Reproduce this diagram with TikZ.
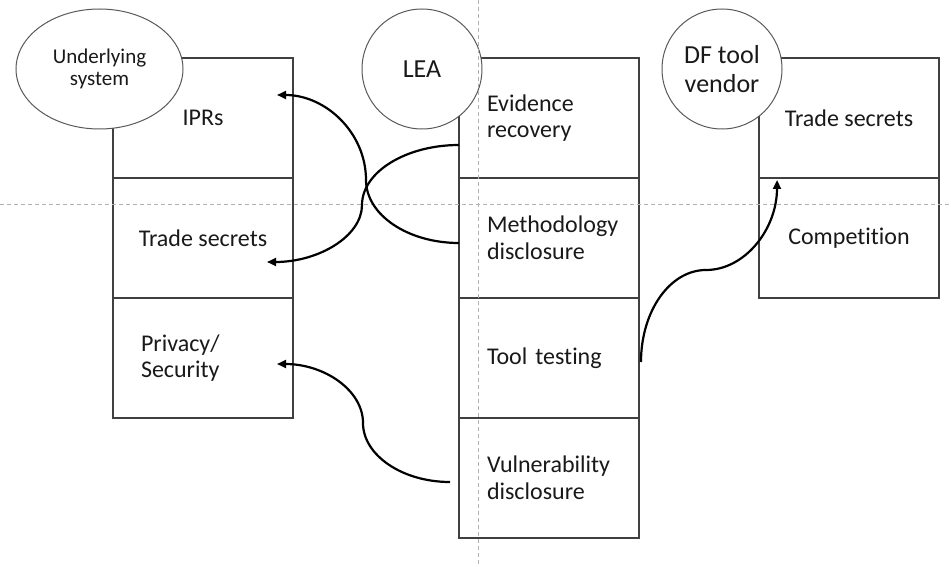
\documentclass[tikz,border=0pt]{standalone}
\usepackage{fontspec}
\setmainfont{Carlito}[Ligatures=NoCommon]
\usetikzlibrary{arrows.meta,shapes.geometric}
\begin{document}
\begin{tikzpicture}[x=1pt,y=-1pt,
  cell/.style={draw=black!75,line width=1.2pt,minimum width=180pt,minimum height=120pt,inner sep=0pt,outer sep=0pt,text=black!90,font=\fontsize{24}{26.7}\selectfont},
  cellL/.style={cell,text width=124pt,align=left},
  cellC/.style={cell,align=center},
  actor/.style={draw=black!65,line width=1pt,fill=white,circle,minimum size=120pt,inner sep=0pt,align=center,text=black!90,font=\fontsize{26}{29}\selectfont},
  arr/.style={line width=2.2pt,-{Triangle[length=9pt,width=8pt]}},
  guide/.style={draw=black!30,line width=0.8pt,dash pattern=on 4pt off 3pt}]
\useasboundingbox (0,0) rectangle (951,567);
% left column
\node[cellC] (ipr) at (203,118) {IPRs};
\node[cellC] (tsL) at (203,238) {Trade secrets};
\node[cellL] (priv) at (203,358) {Privacy/\\Security};
% middle column
\node[cellL] (ev) at (549,118) {Evidence\\recovery};
\node[cellL] (meth) at (549,238) {Methodology\\disclosure};
\node[cellL] (tt) at (549,358) {Tool testing};
\node[cellL] (vul) at (549,478) {Vulnerability\\disclosure};
% right column
\node[cellC] (tsR) at (849,118) {Trade secrets};
\node[cellC] (comp) at (849,238) {Competition};
% actors
\node[actor,ellipse,minimum width=167pt,minimum height=120pt,font=\fontsize{21}{22.5}\selectfont] (us) at (99.5,69) {Underlying\\system};
\node[actor] (lea) at (422,69) {LEA};
\node[actor] (df) at (722,69) {DF tool\\vendor};
% guides
\coordinate (gT) at (478,0);
\coordinate (gB) at (478,567);
\coordinate (gL) at (0,204);
\coordinate (gR) at (951,204);
\draw[guide] (gT) -- (gB);
\draw[guide] (gL) -- (gR);
% connector points
\coordinate (aS) at ([yshift=-5pt]meth.west);
\coordinate (aM) at (366,180);
\coordinate (aE) at (277,95);
\coordinate (bS) at ([yshift=-27pt]ev.west);
\coordinate (bM) at (362,205);
\coordinate (bE) at (267,262);
\coordinate (cS) at ([xshift=-9pt,yshift=-4pt]vul.west);
\coordinate (cM) at (363,423);
\coordinate (cE) at (277,364);
\coordinate (dS) at ([xshift=2pt,yshift=-4pt]tt.east);
\coordinate (dM) at (706,270);
\coordinate (dE) at (777,180);
% connectors
\draw[arr] (aS) .. controls +(-51,0) and +(0,35) .. (aM) .. controls +(0,-47) and +(49,0) .. (aE);
\draw[arr] (bS) .. controls +(-53,0) and +(0,-33) .. (bM) .. controls +(0,31) and +(52,0) .. (bE);
\draw[arr] (cS) .. controls +(-48,0) and +(0,32) .. (cM) .. controls +(0,-33) and +(47,0) .. (cE);
\draw[arr] (dS) .. controls +(0,-51) and +(-36,0) .. (dM) .. controls +(39,0) and +(0,49) .. (dE);
\end{tikzpicture}
\end{document}
